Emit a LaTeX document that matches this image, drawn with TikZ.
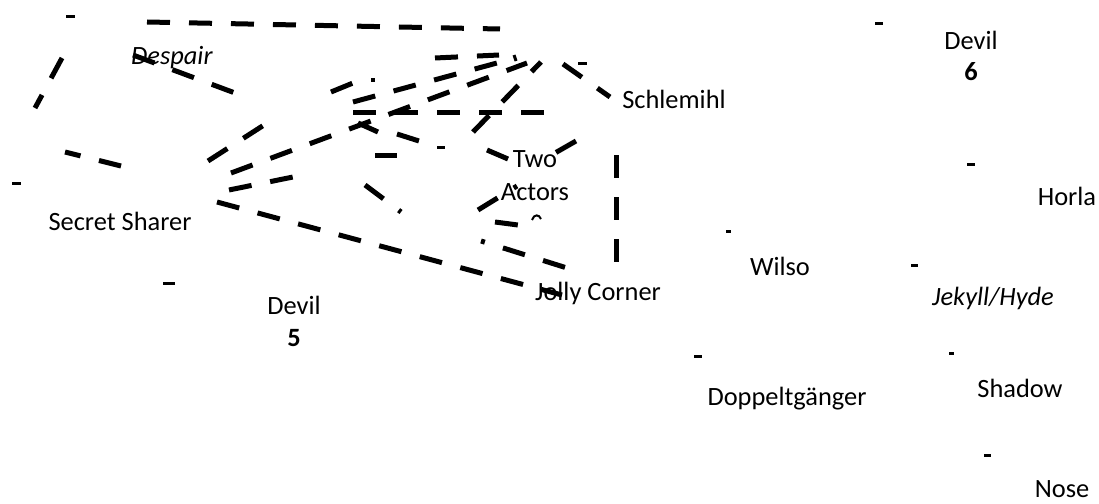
\documentclass[tikz,border=0pt]{standalone}
\usepackage{fontspec}
\setmainfont{Carlito}
\begin{document}
\begin{tikzpicture}[x=1pt,y=-1pt,
  edge/.style={line width=5pt, dash pattern=on 23pt off 19pt},
  lbl/.style={font=\fontsize{26.4}{32.5}\selectfont, inner sep=0pt, anchor=base},
  pin/.style={fill=black, rectangle, minimum width=#1, minimum height=3pt, inner sep=0pt},
  pin/.default=8pt]
\useasboundingbox (0,0) rectangle (1099,503);

% labels
\node[lbl] (despair)   at (172,64)  {\textit{Despair}};
\node[lbl] (secret)    at (120,230) {Secret Sharer};
\node[lbl] (devilfive) at (294,314) {Devil};
\node[lbl] (fivenum)   at (294,346) {\textbf{5}};
\node[lbl] (devilsix)  at (971,49)  {Devil};
\node[lbl] (sixnum)    at (971,81)  {\textbf{6}};
\node[lbl] (schlemihl) at (674,108) {Schlemihl};
\node[lbl] (horla)     at (1067,205) {Horla};
\node[lbl] (two)       at (535,167) {Two};
\node[lbl] (actors)    at (535,200) {Actors};
\node[lbl] (jolly)     at (598,300) {Jolly Corner};
\node[lbl] (wilso)     at (780,275) {Wilso};
\node[lbl] (jekyll)    at (993,305) {\textit{Jekyll/Hyde}};
\node[lbl] (doppel)    at (787,405) {Doppeltgänger};
\node[lbl] (shadow)    at (1020,397) {Shadow};
\node[lbl] (nose)      at (1062,497) {Nose};

% node markers
\node[pin=9pt]  (m1)  at (70,17)   {};
\node[pin=9pt]  (m2)  at (16,183)  {};
\node[pin=12pt] (m3)  at (169,283) {};
\node[pin=8pt]  (m4)  at (879,24)  {};
\node[pin=8pt]  (m5)  at (971,164) {};
\node[pin=5pt]  (m6)  at (728,231) {};
\node[pin=7pt]  (m7)  at (914,265) {};
\node[pin=8pt]  (m8)  at (698,356) {};
\node[pin=5pt]  (m9)  at (951,353) {};
\node[pin=7pt]  (m10) at (987,455) {};
\node[pin=8pt]  (m11) at (441,147) {};
\node[pin=9pt]  (m12) at (582,63)  {};
\node[fill=black, minimum size=4pt, inner sep=0pt] (m13) at (373,80) {};

% connector end points
\coordinate (a1) at (147,22);  \coordinate (b1) at (500,29);
\coordinate (a2) at (62,58);   \coordinate (b2) at (35,108);
\coordinate (a3) at (65,152);  \coordinate (b3) at (121,166);
\coordinate (a4) at (133,55);  \coordinate (b4) at (235,93);
\coordinate (a5) at (208,161); \coordinate (b5) at (264,125);
\coordinate (a6) at (231,173); \coordinate (b6) at (527,63);
\coordinate (a7) at (229,190); \coordinate (b7) at (293,177);
\coordinate (a8) at (217,202); \coordinate (b8) at (562,295);
\coordinate (a9) at (481,241); \coordinate (b9) at (567,268);
\coordinate (a10) at (353,102); \coordinate (b10) at (497,63);
\coordinate (a11) at (473,132); \coordinate (b11) at (541,62);
\coordinate (a12) at (563,64);  \coordinate (b12) at (610,97);
\coordinate (a13) at (576,141); \coordinate (b13) at (555,153);
\coordinate (a14) at (487,150); \coordinate (b14) at (508,159);
\coordinate (a15) at (478,210); \coordinate (b15) at (517,186);
\coordinate (a16) at (495,222); \coordinate (b16) at (518,225);
\coordinate (a17) at (616,155); \coordinate (b17) at (616,262);
\coordinate (a18) at (353,112); \coordinate (b18) at (544,112);
\coordinate (a19) at (375,155); \coordinate (b19) at (397,155);
\coordinate (a20) at (397,134); \coordinate (b20) at (419,141);
\coordinate (a21) at (331,92);  \coordinate (b21) at (353,83);
\coordinate (a22) at (435,58);  \coordinate (b22) at (499,55);
\coordinate (a23) at (358,123); \coordinate (b23) at (378,132);
\coordinate (a24) at (365,185); \coordinate (b24) at (401,212);
\coordinate (a25) at (514,55);  \coordinate (b25) at (516,61);
\coordinate (a26) at (532,220); \coordinate (b26) at (541,219);

% dashed connectors
\draw[edge] (a1) -- (b1);
\draw[edge] (a2) -- (b2);
\draw[edge, dash phase=7pt] (a3) -- (b3);
\draw[edge] (a4) -- (b4);
\draw[edge] (a5) -- (b5);
\draw[edge] (a6) -- (b6);
\draw[edge] (a7) -- (b7);
\draw[edge] (a8) -- (b8);
\draw[edge, dash phase=19pt] (a9) -- (b9);
\draw[edge] (a10) -- (b10);
\draw[edge] (a11) -- (b11);
\draw[edge] (a12) -- (b12);
\draw[edge] (a13) -- (b13);
\draw[edge] (a14) -- (b14);
\draw[edge] (a15) -- (b15);
\draw[edge] (a16) -- (b16);
\draw[edge] (a17) -- (b17);
\draw[edge] (a18) -- (b18);
\draw[edge] (a19) -- (b19);
\draw[edge] (a20) -- (b20);
\draw[edge] (a21) -- (b21);
\draw[edge] (a22) -- (b22);
\draw[edge] (a23) -- (b23);
\draw[edge] (a24) -- (b24);
\draw[line width=3pt] (a25) -- (b25);
\draw[line width=2pt] (a26) .. controls (534,214) and (539,214) .. (b26);
\end{tikzpicture}
\end{document}
